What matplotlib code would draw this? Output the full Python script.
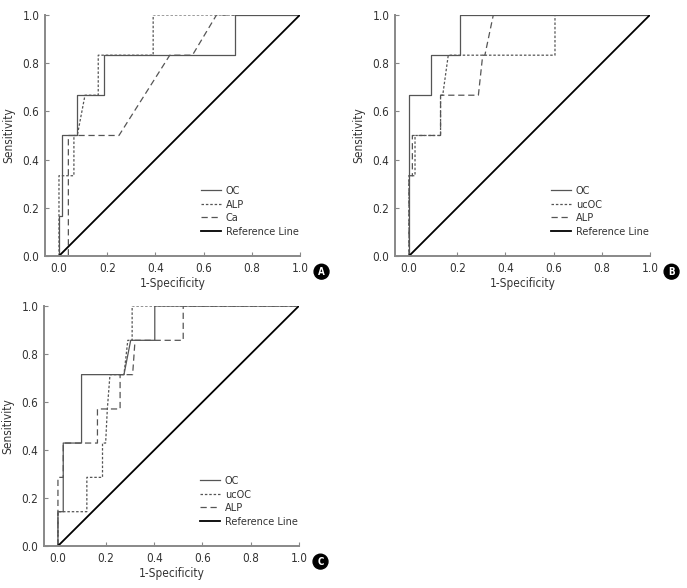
import matplotlib
matplotlib.use('Agg')
import matplotlib.pyplot as plt

# ---- data ----
# Panel A
a_oc_x = [0, 0, 0.014, 0.014, 0.076, 0.076, 0.187, 0.187, 0.731, 0.731, 1.0]
a_oc_y = [0, 0.167, 0.167, 0.5, 0.5, 0.667, 0.667, 0.833, 0.833, 1.0, 1.0]
a_alp_x = [0, 0, 0.062, 0.062, 0.076, 0.108, 0.163, 0.163, 0.391, 0.391, 1.0]
a_alp_y = [0, 0.333, 0.333, 0.5, 0.5, 0.667, 0.667, 0.833, 0.833, 1.0, 1.0]
a_ca_x = [0, 0.039, 0.039, 0.249, 0.46, 0.554, 0.654, 1.0]
a_ca_y = [0, 0, 0.5, 0.5, 0.833, 0.833, 1.0, 1.0]

# Panel B
b_oc_x = [0, 0, 0.09, 0.09, 0.213, 0.213, 1.0]
b_oc_y = [0, 0.667, 0.667, 0.833, 0.833, 1.0, 1.0]
b_ucoc_x = [0, 0, 0.025, 0.025, 0.131, 0.131, 0.14, 0.163, 0.606, 0.606, 1.0]
b_ucoc_y = [0, 0.333, 0.333, 0.5, 0.5, 0.667, 0.667, 0.833, 0.833, 1.0, 1.0]
b_alp_x = [0, 0, 0.014, 0.014, 0.131, 0.131, 0.288, 0.306, 0.315, 0.35, 1.0]
b_alp_y = [0, 0.333, 0.333, 0.5, 0.5, 0.667, 0.667, 0.833, 0.833, 1.0, 1.0]

# Panel C
c_oc_x = [0, 0, 0.022, 0.022, 0.098, 0.098, 0.274, 0.302, 0.402, 0.402, 1.0]
c_oc_y = [0, 0.143, 0.143, 0.429, 0.429, 0.714, 0.714, 0.857, 0.857, 1.0, 1.0]
c_ucoc_x = [0, 0, 0.12, 0.12, 0.185, 0.185, 0.198, 0.205, 0.216, 0.274, 0.29, 0.308, 0.308, 1.0]
c_ucoc_y = [0, 0.143, 0.143, 0.286, 0.286, 0.429, 0.429, 0.571, 0.714, 0.714, 0.857, 0.857, 1.0, 1.0]
c_alp_x = [0, 0, 0.022, 0.022, 0.164, 0.164, 0.258, 0.258, 0.31, 0.32, 0.52, 0.52, 1.0]
c_alp_y = [0, 0.286, 0.286, 0.429, 0.429, 0.571, 0.571, 0.714, 0.714, 0.857, 0.857, 1.0, 1.0]

ref_x = [0, 1]
ref_y = [0, 1]

ticks = [0.0, 0.2, 0.4, 0.6, 0.8, 1.0]
tick_labels = ['0.0', '0.2', '0.4', '0.6', '0.8', '1.0']

# condensed look like the original figure
plt.rcParams['font.family'] = ['DejaVu Sans']
plt.rcParams['font.stretch'] = 'condensed'

fig = plt.figure(figsize=(6.87, 5.88), dpi=100)

def roc_panel(rect, curves, letter):
    ax = fig.add_axes(rect)
    for x, y, ls, lab in curves:
        ax.plot(x, y, color='#555555', lw=0.9, linestyle=ls, label=lab)
    ax.plot(ref_x, ref_y, color='black', lw=1.3, label='Reference Line')
    ax.set_xlim(-0.058, 1.0)
    ax.set_ylim(0, 1.0)
    ax.set_xticks(ticks)
    ax.set_xticklabels(tick_labels)
    ax.set_yticks(ticks)
    ax.set_yticklabels(tick_labels)
    ax.tick_params(direction='in', length=3, width=0.8, colors='#888888',
                   labelcolor='#333333', labelsize=8.5, pad=4)
    for s in ['top', 'right']:
        ax.spines[s].set_visible(False)
    for s in ['left', 'bottom']:
        ax.spines[s].set_color('#888888')
        ax.spines[s].set_linewidth(1.4)
    ax.set_xlabel('1-Specificity', fontsize=8.5, color='#333333', labelpad=2)
    ax.set_ylabel('Sensitivity', fontsize=8.5, color='#333333', labelpad=5)
    leg = ax.legend(loc='lower right', bbox_to_anchor=(0.995, 0.08), frameon=False,
                    fontsize=7.8, handlelength=1.9, labelspacing=0.33,
                    handletextpad=0.4, borderpad=0, borderaxespad=0)
    for t in leg.get_texts():
        t.set_color('#333333')
    ax.text(1.085, -0.065, letter, transform=ax.transAxes, ha='center', va='center',
            color='white', fontsize=7, fontweight='bold',
            bbox=dict(boxstyle='circle,pad=0.25', fc='black', ec='black'))
    return ax

roc_panel([0.0655, 0.5646, 0.371, 0.41],
          [(a_oc_x, a_oc_y, '-', 'OC'),
           (a_alp_x, a_alp_y, (0, (2, 1.5)), 'ALP'),
           (a_ca_x, a_ca_y, (0, (5, 3)), 'Ca')], 'A')
roc_panel([0.575, 0.5646, 0.371, 0.41],
          [(b_oc_x, b_oc_y, '-', 'OC'),
           (b_ucoc_x, b_ucoc_y, (0, (2, 1.5)), 'ucOC'),
           (b_alp_x, b_alp_y, (0, (5, 3)), 'ALP')], 'B')
roc_panel([0.064, 0.0714, 0.371, 0.4082],
          [(c_oc_x, c_oc_y, '-', 'OC'),
           (c_ucoc_x, c_ucoc_y, (0, (2, 1.5)), 'ucOC'),
           (c_alp_x, c_alp_y, (0, (5, 3)), 'ALP')], 'C')

fig.savefig('out.png', dpi=100, facecolor='white')
